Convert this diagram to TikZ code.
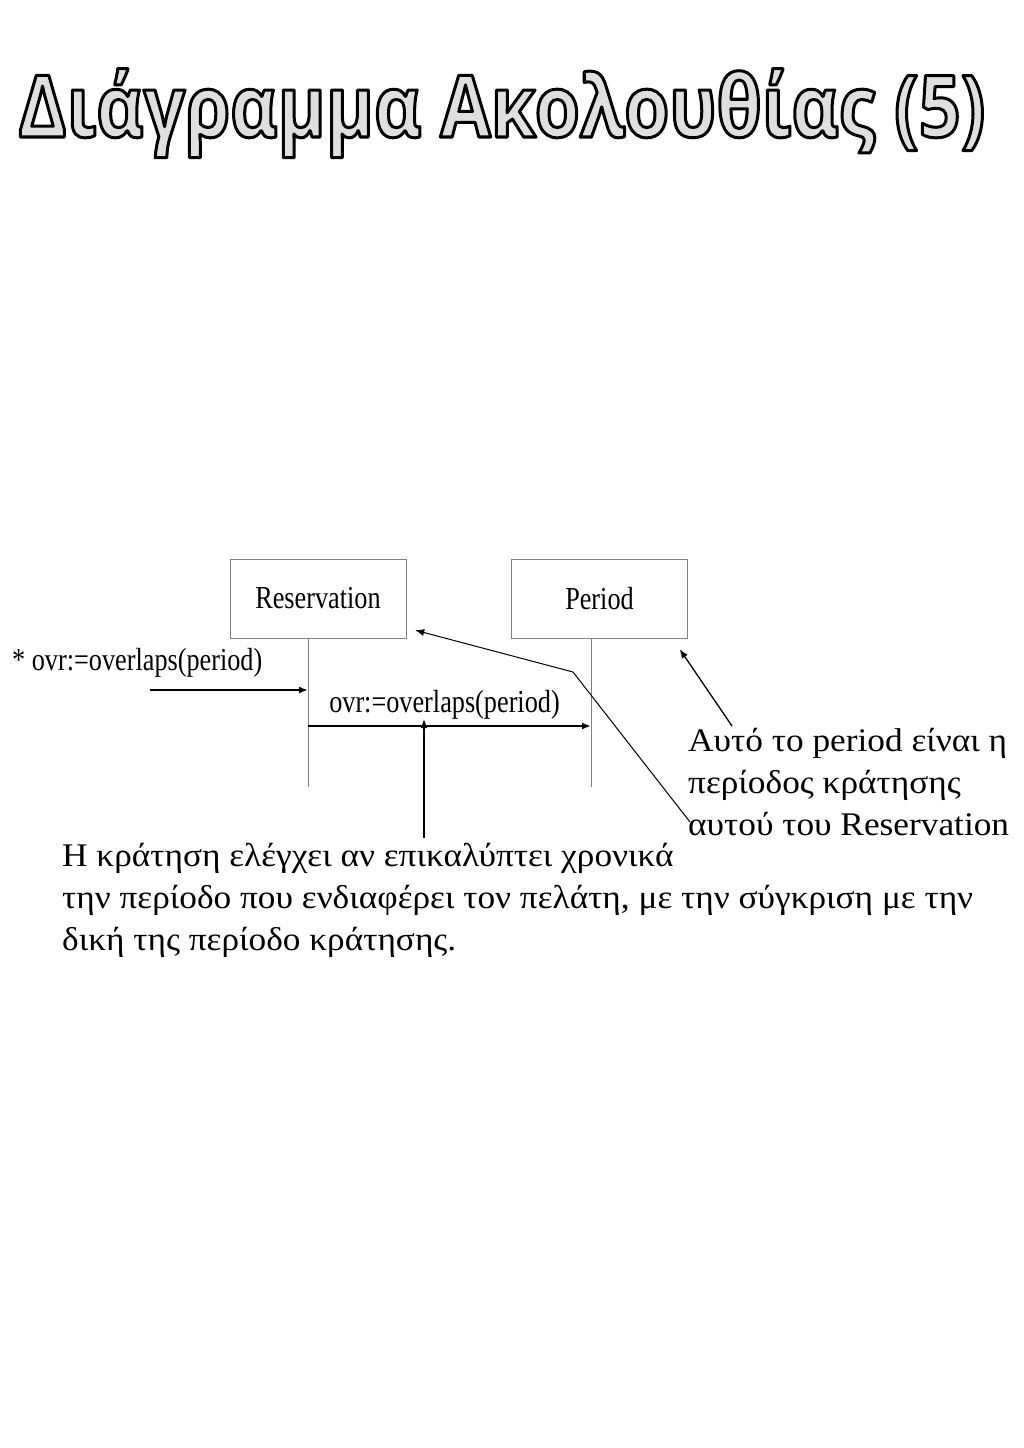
\documentclass[tikz,border=0pt]{standalone}
\usepackage{fontspec}
\setmainfont{Liberation Serif}
\newfontfamily\titlefont{Open Sans}[FakeStretch=0.85]
\newfontfamily\diagfont{Liberation Serif}[FakeStretch=0.82]
\newfontfamily\notefont{Liberation Serif}[FakeStretch=1.07]
\newcommand\outlined[1]{\special{pdf:literal direct 0 G 3 w 1 j 2 Tr}#1\special{pdf:literal direct 0 Tr}}
\usetikzlibrary{arrows.meta}

\begin{document}
\begin{tikzpicture}[x=1pt, y=-1pt,
    heading/.style={font=\titlefont\bfseries\fontsize{86}{94}\selectfont, anchor=base, inner sep=0pt},
    obj/.style={draw=gray, minimum width=176pt, minimum height=79pt, inner sep=0pt, font=\diagfont\fontsize{32}{38}\selectfont},
    lifeline/.style={draw=gray, line width=1pt},
    msg/.style={-{Latex[length=9pt,width=7pt]}, line width=2pt},
    note/.style={-{Latex[length=9pt,width=7pt]}, line width=1.3pt},
    lbl/.style={font=\diagfont\fontsize{32}{38}\selectfont, inner sep=0pt},
    txt/.style={font=\notefont\fontsize{33}{42}\selectfont, align=left, inner sep=0pt}]
    \useasboundingbox (0,0) rectangle (1024,1448);
    \fill[white] (0,0) rectangle (1024,1448);
    % title, outlined
    \node[heading, text=gray!25] (title) at (502,137) {\outlined{Διάγραμμα Ακολουθίας (5)}};
    % objects and lifelines
    \node[obj] (res) at (318,598.5) {Reservation};
    \node[obj] (per) at (599.5,598.5) {Period};
    \coordinate (rbot) at (308,787);
    \coordinate (pbot) at (591,787);
    \draw[lifeline] (res.south -| rbot) -- (rbot);
    \draw[lifeline] (per.south -| pbot) -- (pbot);
    % messages
    \node[lbl, anchor=base west] (m1) at (12,670) {* ovr:=overlaps(period)};
    \coordinate (start) at (150,690);
    \draw[msg] (start) -- (start -| rbot);
    \node[lbl, anchor=base] (m2) at (444.5,712) {ovr:=overlaps(period)};
    \coordinate (call) at (308,726);
    \draw[msg] (call) -- (call -| pbot);
    % notes
    \node[txt, anchor=north west] (note1) at (62,843) {Η κράτηση ελέγχει αν επικαλύπτει χρονικά\\την περίοδο που ενδιαφέρει τον πελάτη, με την σύγκριση με την\\δική της περίοδο κράτησης.};
    \coordinate (n1foot) at (424,838);
    \draw[note] (n1foot) -- (n1foot |- m2.south);
    \node[txt, anchor=north west] (note2) at (688,728) {Αυτό το period είναι η\\περίοδος κράτησης\\αυτού του Reservation};
    \coordinate (n2a) at (732,726);
    \coordinate (n2b) at (690,822);
    \coordinate (kink) at (573,672);
    \draw[note] (n2a) -- ([shift={(-8,11)}]per.south east);
    \draw[note, line width=1pt] (n2b) -- (kink) -- ([shift={(9,-8)}]res.south east);
\end{tikzpicture}
\end{document}
